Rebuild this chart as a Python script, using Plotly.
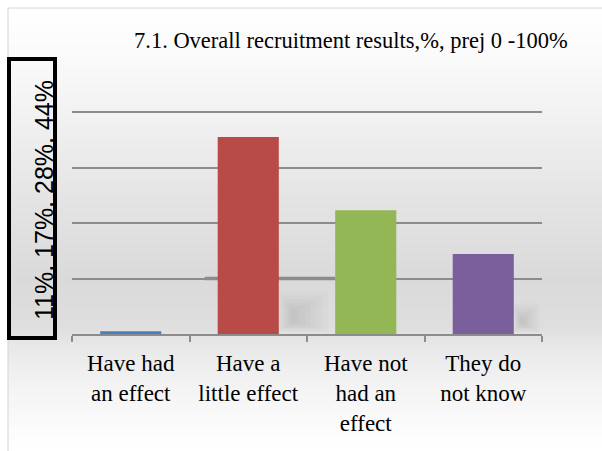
import plotly.graph_objects as go

# ---- data ----
categories = ["Have had<br>an effect", "Have a<br>little effect", "Have not<br>had an<br>effect", "They do<br>not know"]
values = [0.5, 35.5, 22.3, 14.4]          # bar heights (grid step = 10)
bar_colors = ["#4a7ebb", "#b84a47", "#93b755", "#7b5f9c"]
grid_ticks = [10, 20, 30, 40]
y_label_text = "11%, 17%, 28%, 44%"
title_text = "7.1. Overall recruitment results,%, prej 0 -100%"

W, H = 602, 451
Y_MAX = 42
L, R, B = 72, 60, 117
PH = round(222 * Y_MAX / 40)
T = H - B - PH
PW = W - L - R

def px_x(px):
    return (px - L) / PW

def px_y(py):
    return (H - B - py) / PH

fig = go.Figure()
fig.add_trace(go.Bar(
    x=categories, y=values, width=0.52,
    marker=dict(color=bar_colors, line=dict(width=0)),
    showlegend=False, hoverinfo="skip",
))

shapes = []
# background gradient (style stops)
stops = [(8, 255), (60, 250), (120, 241), (200, 228), (280, 218), (325, 222), (345, 232), (385, 243), (425, 251), (451, 255)]

def grey_at(py):
    for (a, ca), (b, cb) in zip(stops, stops[1:]):
        if a <= py <= b:
            t = (py - a) / (b - a)
            return round(ca + (cb - ca) * t)
    return 255

step = 4
py = 8
while py < H:
    g = grey_at(py + step / 2)
    shapes.append(dict(type="rect", xref="paper", yref="paper",
                       x0=px_x(8), x1=px_x(W + 5), y0=px_y(py + step + 0.5), y1=px_y(py),
                       fillcolor=f"rgb({g},{g},{g})", line=dict(width=0), layer="below"))
    py += step
# chart frame border
shapes.append(dict(type="rect", xref="paper", yref="paper",
                   x0=px_x(8), x1=px_x(W + 5), y0=px_y(H + 5), y1=px_y(8),
                   line=dict(color="#d4d4d4", width=1), fillcolor="rgba(0,0,0,0)", layer="below"))
# soft shadows behind bars (layered, low opacity)
for k in range(6):
    shapes.append(dict(type="rect", xref="x", yref="y",
                       x0=1.26 + 0.02 * k, x1=1.68 - 0.05 * k, y0=0.4 + 0.3 * k, y1=7.5 - 0.6 * k,
                       fillcolor="rgba(110,110,110,0.035)", line=dict(width=0), layer="below"))
    shapes.append(dict(type="rect", xref="x", yref="y",
                       x0=3.26 + 0.01 * k, x1=3.48 - 0.025 * k, y0=0.4 + 0.25 * k, y1=5.5 - 0.5 * k,
                       fillcolor="rgba(110,110,110,0.03)", line=dict(width=0), layer="below"))
# thick grid segment artifact
shapes.append(dict(type="line", xref="x", yref="y", x0=0.63, x1=1.74, y0=10, y1=10,
                   line=dict(color="#8a8a8a", width=3.5), layer="below"))
# label box
shapes.append(dict(type="rect", xref="paper", yref="paper",
                   x0=px_x(9), x1=px_x(55), y0=px_y(338), y1=px_y(59),
                   line=dict(color="black", width=4), fillcolor="rgba(0,0,0,0)", layer="above"))

fig.update_layout(
    width=W, height=H,
    margin=dict(l=L, r=R, t=T, b=B, pad=0),
    paper_bgcolor="white", plot_bgcolor="rgba(0,0,0,0)",
    shapes=shapes,
    xaxis=dict(
        type="category", range=[-0.5, 3.5],
        showline=True, linecolor="#8c8c8c", linewidth=1.5,
        ticks="outside", tickson="boundaries", ticklen=6, tickcolor="#8c8c8c", tickwidth=1.5,
        tickfont=dict(family="Liberation Serif, Times New Roman, serif", size=23, color="black"),
        ticklabelstandoff=8,
        showgrid=False, fixedrange=True,
    ),
    yaxis=dict(
        range=[0, Y_MAX], tickvals=grid_ticks, showticklabels=False,
        showgrid=True, gridcolor="#8c8c8c", gridwidth=1.5,
        zeroline=False, showline=False, fixedrange=True,
    ),
    annotations=[
        dict(text=title_text, xref="paper", yref="paper", x=px_x(351), y=px_y(40),
             xanchor="center", yanchor="middle", showarrow=False,
             font=dict(family="Liberation Serif, Times New Roman, serif", size=22.5, color="black")),
        dict(text=y_label_text, xref="paper", yref="paper", x=px_x(44), y=px_y(200),
             xanchor="center", yanchor="middle", textangle=-90, showarrow=False,
             font=dict(family="Liberation Sans, Arial, sans-serif", size=25, color="black")),
    ],
)

fig.write_html("out.html")
